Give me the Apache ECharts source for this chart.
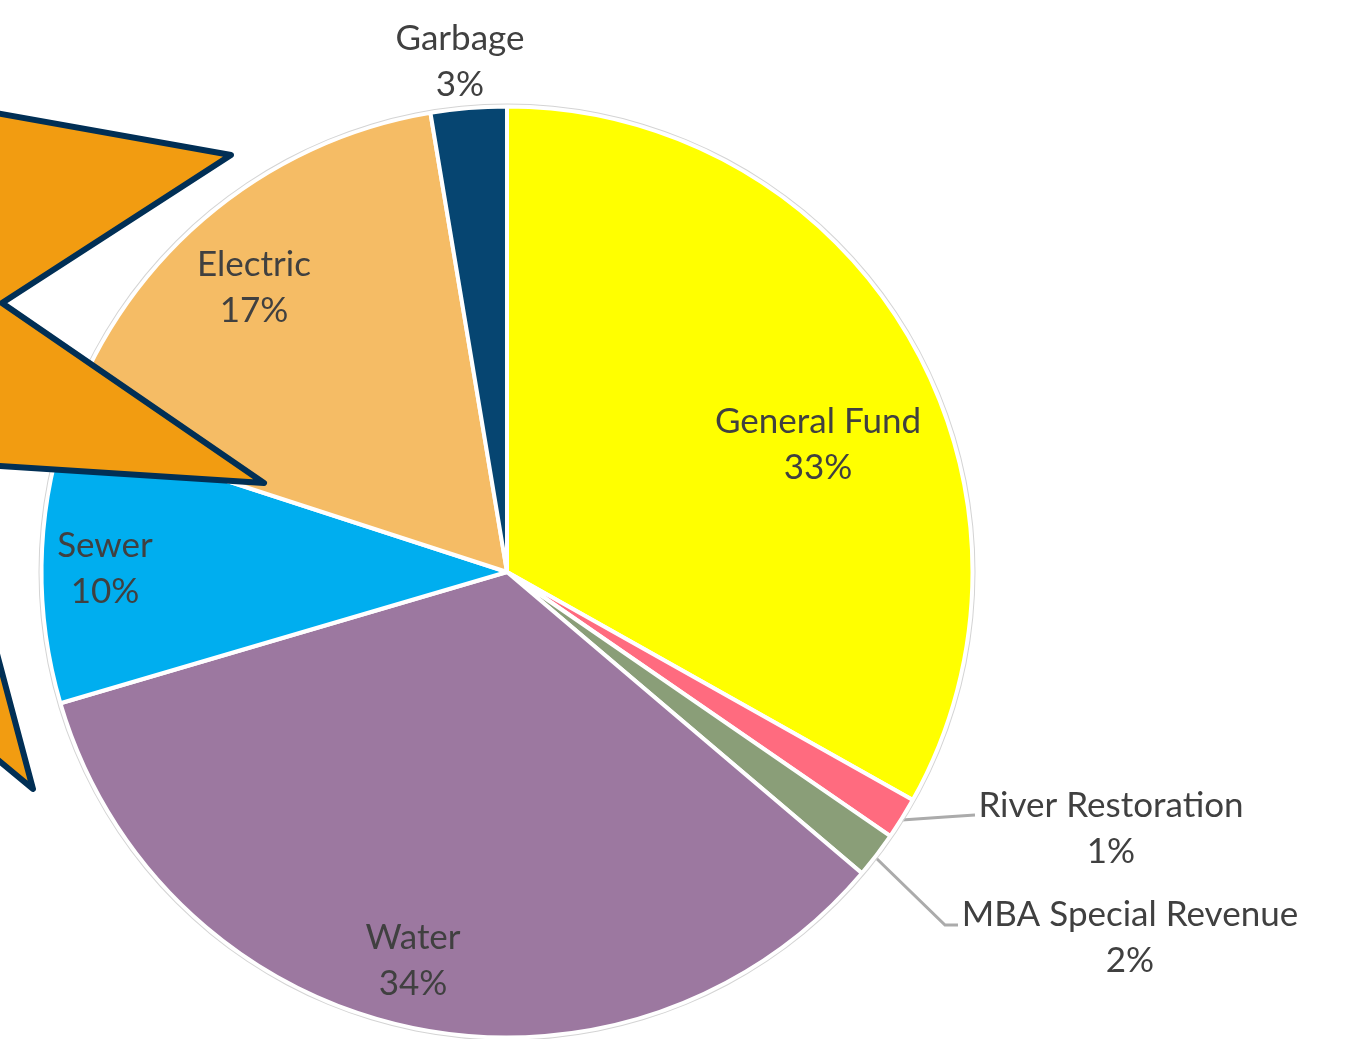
<!DOCTYPE html>
<html><head><meta charset="utf-8">
<style>html,body{margin:0;padding:0;background:#fff}#c{width:1346px;height:1039px}</style>
<script src="https://cdn.jsdelivr.net/npm/echarts@6/dist/echarts.min.js"></script>
</head><body><div id="c"></div>
<script>
const categories = ['General Fund','River Restoration','MBA Special Revenue','Water','Sewer','Electric','Garbage'];
const shares = [33.15,1.45,1.6,34.25,9.55,17.37,2.63];
const colors = ['#FFFF00','#FF6B7F','#8A9E78','#9C78A0','#00AEEF','#F5BC65','#064571'];
const labelCenters = [[818,445],[1111,829],[1130,938],[413,961],[105,569],[254,288],[460,62]];
const leaderLines = {1:[[902,820],[945,817],[975,815]],2:[[875,857],[945,925],[958,925]]};
const starUpper = [[-60,103],[231,155],[2,303],[264,483],[-60,462]];
const starLower = [[-20,590],[33,789],[-20,745]];
const C=[507,572];
const chart = echarts.init(document.getElementById('c'),null,{renderer:'canvas'});
const starStyle={fill:'#F29C11',stroke:'#012F55',lineWidth:6,lineJoin:'round'};
chart.setOption({
  animation:false,
  backgroundColor:'#fff',
  series:[
    {type:'pie',z:2,center:C,radius:[0,465.5],startAngle:90,clockwise:true,minAngle:0,
     avoidLabelOverlap:false,
     itemStyle:{borderColor:'#fff',borderWidth:4},
     data:categories.map((n,i)=>({name:n,value:shares[i],itemStyle:{color:colors[i]},
       labelLine:{show:!!leaderLines[i]}})),
     label:{show:true,position:'outside',fontFamily:'Lato',fontSize:35,color:'#404040',
       lineHeight:46,align:'center',
       formatter:p=>p.name+'\n'+Math.round(p.value)+'%'},
     labelLine:{show:true,lineStyle:{color:'#ABABAB',width:3}},
     labelLayout:p=>{const c=labelCenters[p.dataIndex];
       const o={x:c[0],y:c[1],align:'center',verticalAlign:'middle',hideOverlap:false};
       if(leaderLines[p.dataIndex])o.labelLinePoints=leaderLines[p.dataIndex];
       return o;}
    },
    {type:'pie',silent:true,z:3,center:C,radius:[467.5,468.5],startAngle:90,
     label:{show:false},labelLine:{show:false},
     itemStyle:{color:'#d4d4d4'},data:[{name:'outline',value:1}]}
  ],
  graphic:[
    {type:'polygon',z:100,shape:{points:starUpper},style:starStyle},
    {type:'polygon',z:100,shape:{points:starLower},style:starStyle}
  ]
});
</script></body></html>
